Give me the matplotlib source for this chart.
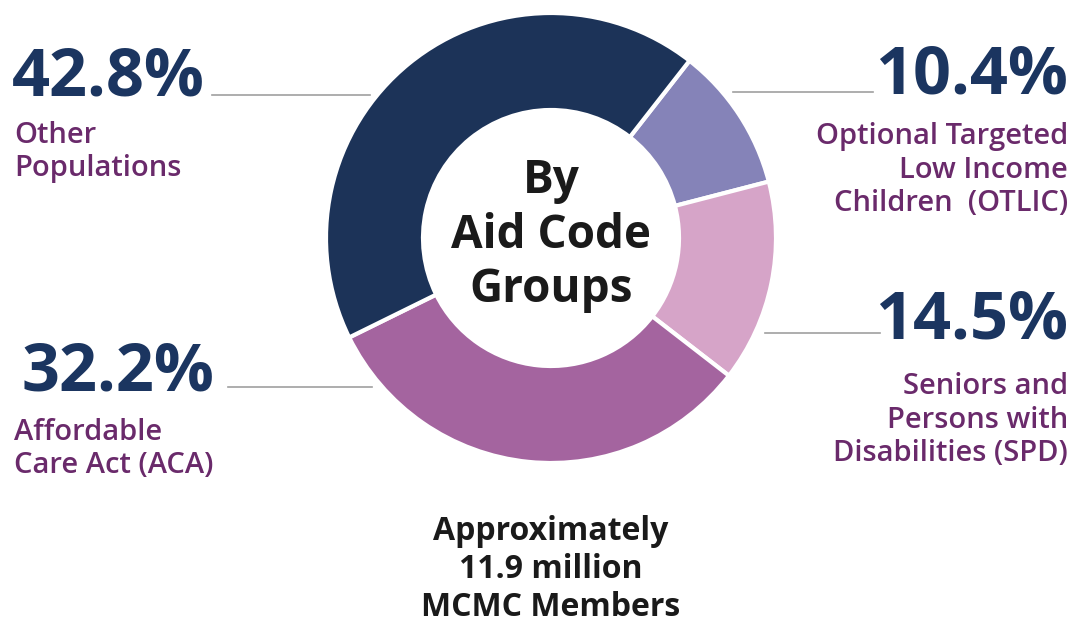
import matplotlib.pyplot as plt

plt.rcParams['font.family'] = ['Open Sans', 'DejaVu Sans']

# Data
groups = ["Optional Targeted\nLow Income\nChildren  (OTLIC)",
          "Seniors and\nPersons with\nDisabilities (SPD)",
          "Affordable\nCare Act (ACA)",
          "Other\nPopulations"]
shares = [10.4, 14.5, 32.2, 42.8]
colors = ["#8583b8", "#d6a4c8", "#a4649f", "#1c3358"]

navy = "#1b3560"
purple = "#6a2a6b"
H = 627

fig = plt.figure(figsize=(10.78, 6.27), dpi=100)
ax = fig.add_axes([0, 0, 1, 1])

ax.pie(shares, colors=colors, startangle=52, counterclock=False,
       center=(551, H - 238), radius=225,
       wedgeprops=dict(width=97, edgecolor="white", linewidth=3))
ax.set_xlim(0, 1078)
ax.set_ylim(0, H)
ax.set_aspect("equal")
ax.axis("off")

# (percent x, percent y, ha, label x, label y, line x0, line x1, line y)
layout = [
    (1068, 76, "right", 1068, 170, 733, 873, 92),
    (1068, 321, "right", 1068, 420, 765, 880, 333),
    (22, 373, "left", 14, 449, 228, 372, 387),
    (12, 78, "left", 14, 152, 212, 370, 95),
]

for share, label, (px, py, ha, lx, ly, x0, x1, yl) in zip(shares, groups, layout):
    ax.text(px, H - py, f"{share}%", ha=ha, va="center", fontsize=48,
            fontweight="bold", color=navy)
    ax.text(lx, H - ly, label, ha=ha, va="center", fontsize=21,
            fontweight="semibold", color=purple, linespacing=1.2,
            multialignment=ha)
    ax.plot([x0, x1], [H - yl, H - yl], color="#a0a0a0", linewidth=1.2)

ax.text(551, H - 235, "By\nAid Code\nGroups", ha="center", va="center",
        fontsize=33, fontweight="bold", color="#1a1a1a", linespacing=1.2)
ax.text(551, H - 569, "Approximately\n11.9 million\nMCMC Members", ha="center",
        va="center", fontsize=23, fontweight="bold", color="#1a1a1a",
        linespacing=1.2)

fig.savefig("out.png", dpi=100)
